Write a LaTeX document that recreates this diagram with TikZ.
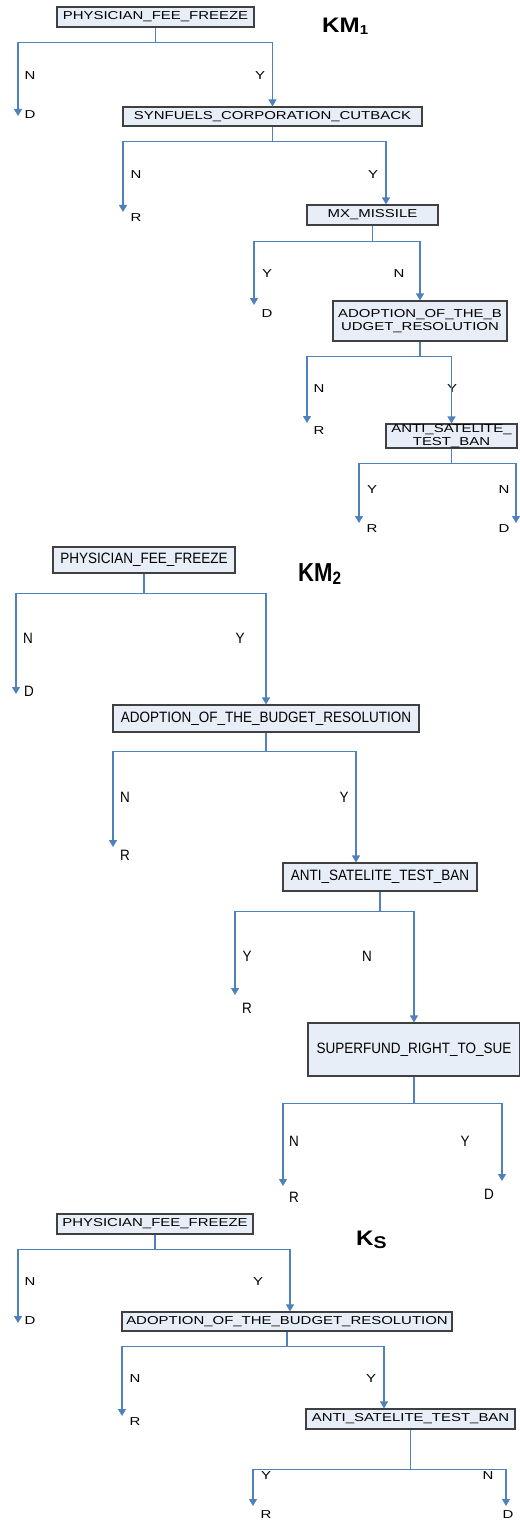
\documentclass[tikz,border=0pt]{standalone}
\usepackage{fontspec}
\setmainfont{Liberation Sans}
\newfontfamily\fa[FakeStretch=1.3]{Liberation Sans}
\newfontfamily\fb[FakeStretch=0.9]{Liberation Sans}
\newfontfamily\ta[FakeStretch=1.15]{Liberation Sans}
\newfontfamily\tb[FakeStretch=0.85]{Liberation Sans}
\usetikzlibrary{arrows.meta}
\definecolor{lineblue}{RGB}{79,129,189}
\definecolor{boxfill}{RGB}{232,238,247}
\definecolor{boxline}{RGB}{64,64,64}
\begin{document}
\begin{tikzpicture}[x=1pt,y=-1pt,
 box/.style={draw=boxline,fill=boxfill,line width=1.1pt,inner sep=0pt,align=center},
 boxa/.style={box,font=\fa\fontsize{11.5}{13}\selectfont},
 boxb/.style={box,font=\fb\fontsize{15}{17}\selectfont},
 conn/.style={draw=lineblue,line width=1.1pt,-{Triangle[width=8pt,length=7pt]}},
 laba/.style={inner sep=0pt,font=\fa\fontsize{11.5}{13}\selectfont},
 labb/.style={inner sep=0pt,font=\fb\fontsize{15}{17}\selectfont}]
\useasboundingbox[fill=white] (0,0) rectangle (519,1522);

% ---------------- KM1 ----------------
\node[boxa,minimum width=197pt,minimum height=20pt] (b11) at (155.5,17) {PHYSICIAN\_FEE\_FREEZE};
\node[boxa,minimum width=299pt,minimum height=19pt] (b12) at (272.5,116.5) {SYNFUELS\_CORPORATION\_CUTBACK};
\node[boxa,minimum width=131pt,minimum height=20pt] (b13) at (372.5,215) {MX\_MISSILE};
\node[boxa,minimum width=174pt,minimum height=40pt] (b14) at (420,321) {ADOPTION\_OF\_THE\_B\\UDGET\_RESOLUTION};
\node[boxa,minimum width=131pt,minimum height=24pt] (b15) at (451.5,436) {ANTI\_SATELITE\_\\TEST\_BAN};
\node[inner sep=0pt,anchor=base west,font=\ta\bfseries\fontsize{21}{21}\selectfont] (km1) at (322,33) {KM\raisebox{-2pt}{\fontsize{13}{13}\selectfont 1}};

\node[laba] (n11) at (30,76) {N};
\node[laba] (y11) at (260,76) {Y};
\node[laba] (l11) at (30,115) {D};
\coordinate (t11) at (18,116);
\node[laba] (n12) at (136,175) {N};
\node[laba] (y12) at (373,175) {Y};
\node[laba] (l12) at (136,218) {R};
\coordinate (t12) at (123,212);
\node[laba] (y13) at (267,274) {Y};
\node[laba] (n13) at (399,274) {N};
\node[laba] (l13) at (267,314) {D};
\coordinate (t13) at (254,305);
\node[laba] (n14) at (319,389) {N};
\node[laba] (y14) at (452,389) {Y};
\node[laba] (l14) at (319,431) {R};
\coordinate (t14) at (307,423);
\node[laba] (y15) at (372,490) {Y};
\node[laba] (n15) at (504,490) {N};
\node[laba] (l15a) at (372,529) {R};
\node[laba] (l15b) at (504,529) {D};
\coordinate (t15a) at (359,523);
\coordinate (t15b) at (516,523);

\draw[conn] (b11.south) -- ++(0,15) -| (t11);
\draw[conn] (b11.south) -- ++(0,15) -| (b12.north);
\draw[conn] (b12.south) -- ++(0,15) -| (t12);
\draw[conn] (b12.south) -- ++(0,15) -| ([xshift=13.5pt]b13.north);
\draw[conn] (b13.south) -- ++(0,16) -| (t13);
\draw[conn] (b13.south) -- ++(0,16) -| (b14.north);
\draw[conn] (b14.south) -- ++(0,15) -| (t14);
\draw[conn] (b14.south) -- ++(0,15) -| (b15.north);
\draw[conn] (b15.south) -- ++(0,15) -| (t15a);
\draw[conn] (b15.south) -- ++(0,15) -| (t15b);

% ---------------- KM2 ----------------
\node[boxb,minimum width=182pt,minimum height=26pt] (b21) at (144,560) {PHYSICIAN\_FEE\_FREEZE};
\node[boxb,minimum width=306pt,minimum height=27pt] (b22) at (266,718.5) {ADOPTION\_OF\_THE\_BUDGET\_RESOLUTION};
\node[boxb,minimum width=194pt,minimum height=28pt] (b23) at (380,877) {ANTI\_SATELITE\_TEST\_BAN};
\node[boxb,minimum width=212pt,minimum height=53pt] (b24) at (414,1049.5) {SUPERFUND\_RIGHT\_TO\_SUE};
\node[inner sep=0pt,anchor=base west,font=\tb\bfseries\fontsize{26}{26}\selectfont] (km2) at (298,581) {KM\raisebox{-3pt}{\fontsize{18}{18}\selectfont 2}};

\node[labb] (n21) at (28,638) {N};
\node[labb] (y21) at (240,638) {Y};
\node[labb] (l21) at (29,691) {D};
\coordinate (t21) at (16,694);
\node[labb] (n22) at (125,797) {N};
\node[labb] (y22) at (344,797) {Y};
\node[labb] (l22) at (125,855) {R};
\coordinate (t22) at (113,847);
\node[labb] (y23) at (247,956) {Y};
\node[labb] (n23) at (367,956) {N};
\node[labb] (l23) at (247,1008) {R};
\coordinate (t23) at (235,995);
\node[labb] (n24) at (294,1141) {N};
\node[labb] (y24) at (465,1141) {Y};
\node[labb] (l24a) at (294,1197) {R};
\node[labb] (l24b) at (489,1194) {D};
\coordinate (t24a) at (283,1186);
\coordinate (t24b) at (502,1181);

\draw[conn] (b21.south) -- ++(0,20) -| (t21);
\draw[conn] (b21.south) -- ++(0,20) -| (b22.north);
\draw[conn] (b22.south) -- ++(0,19) -| (t22);
\draw[conn] (b22.south) -- ++(0,19) -| ([xshift=-24pt]b23.north);
\draw[conn] (b23.south) -- ++(0,20) -| (t23);
\draw[conn] (b23.south) -- ++(0,20) -| (b24.north);
\draw[conn] (b24.south) -- ++(0,27) -| (t24a);
\draw[conn] (b24.south) -- ++(0,27) -| (t24b);

% ---------------- Ks ----------------
\node[boxa,minimum width=196pt,minimum height=20pt] (b31) at (155,1224) {PHYSICIAN\_FEE\_FREEZE};
\node[boxa,minimum width=330pt,minimum height=19pt] (b32) at (287,1321.5) {ADOPTION\_OF\_THE\_BUDGET\_RESOLUTION};
\node[boxa,minimum width=209pt,minimum height=20pt] (b33) at (410.5,1419) {ANTI\_SATELITE\_TEST\_BAN};
\node[inner sep=0pt,anchor=base west,font=\ta\bfseries\fontsize{21}{21}\selectfont] (ks) at (356,1245) {K\raisebox{-3pt}{\fontsize{17}{17}\selectfont S}};

\node[laba] (n31) at (30,1282) {N};
\node[laba] (y31) at (258,1282) {Y};
\node[laba] (l31) at (30,1321) {D};
\coordinate (t31) at (18,1323);
\node[laba] (n32) at (135,1379) {N};
\node[laba] (y32) at (371,1379) {Y};
\node[laba] (l32) at (135,1422) {R};
\coordinate (t32) at (122,1416);
\node[laba] (y33) at (266,1476) {Y};
\node[laba] (n33) at (488,1476) {N};
\node[laba] (l33a) at (266,1515) {R};
\node[laba] (l33b) at (508,1515) {D};
\coordinate (t33a) at (253,1506);
\coordinate (t33b) at (506,1506);

\draw[conn] (b31.south) -- ++(0,15) -| (t31);
\draw[conn] (b31.south) -- ++(0,15) -| ([xshift=3pt]b32.north);
\draw[conn] (b32.south) -- ++(0,15) -| (t32);
\draw[conn] (b32.south) -- ++(0,15) -| ([xshift=-26.5pt]b33.north);
\draw[conn] (b33.south) -- ++(0,40) -| (t33a);
\draw[conn] (b33.south) -- ++(0,40) -| (t33b);
\end{tikzpicture}
\end{document}
